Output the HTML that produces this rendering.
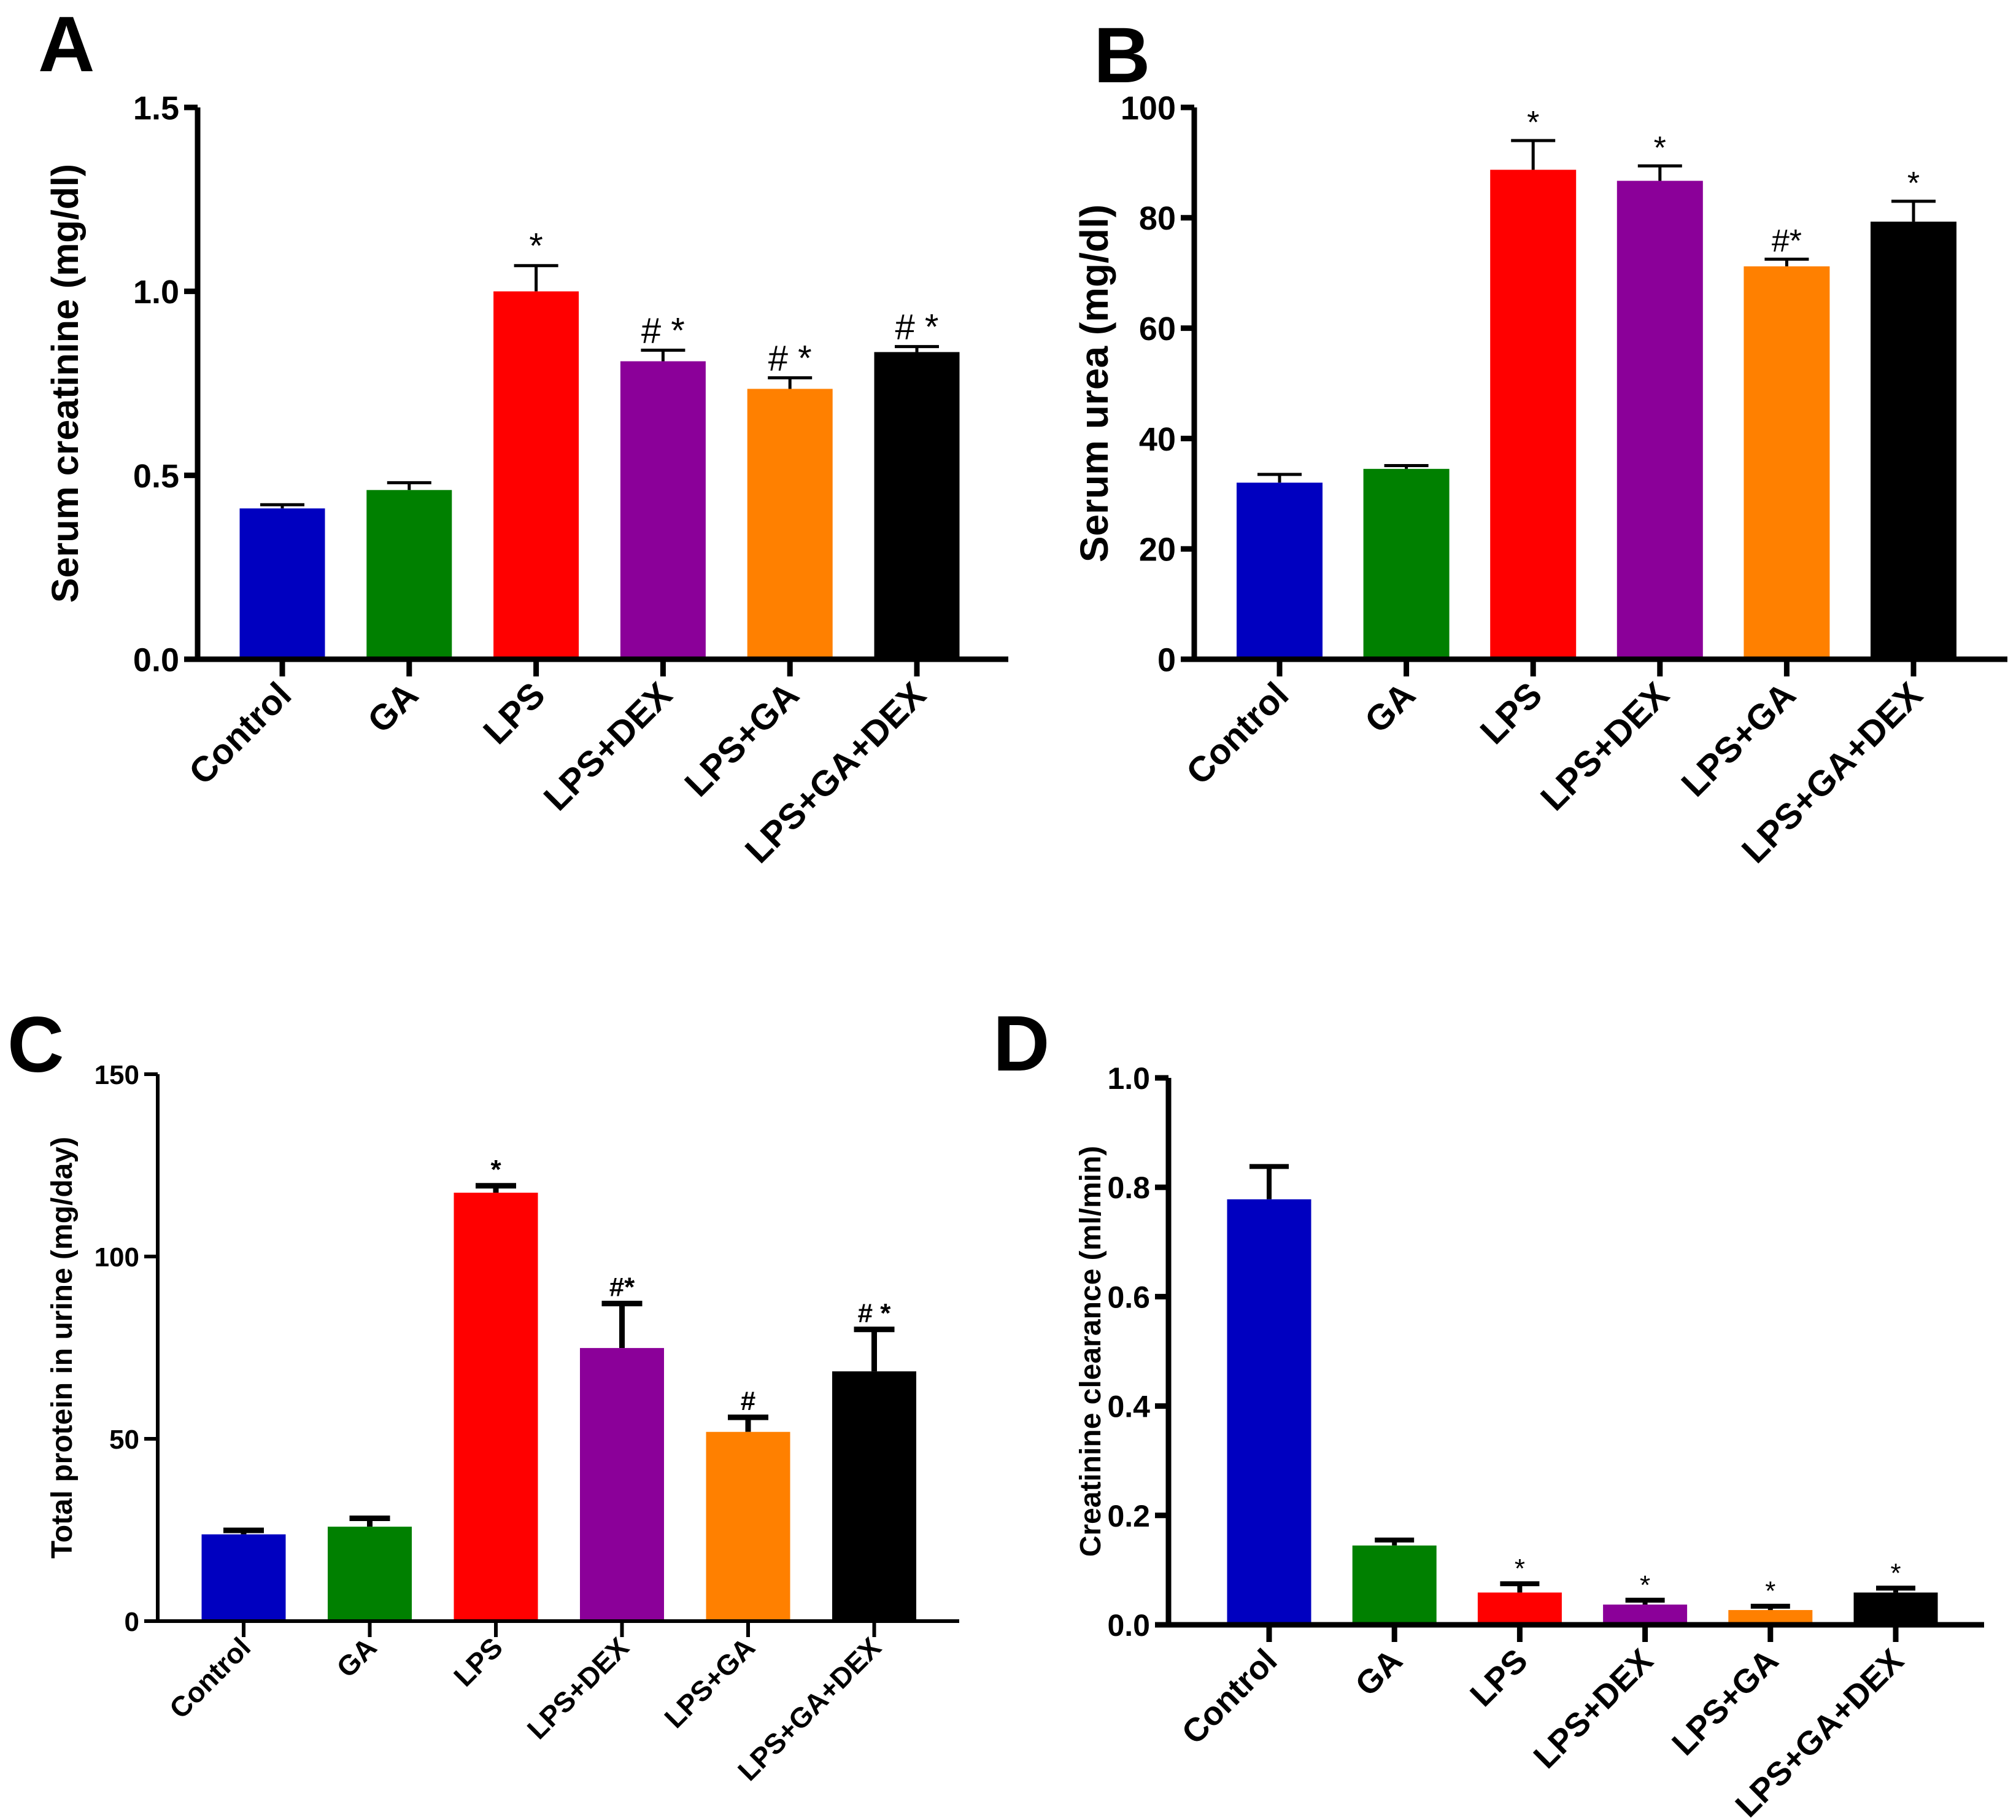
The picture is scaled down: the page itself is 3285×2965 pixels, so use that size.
<!DOCTYPE html>
<html><head><meta charset="utf-8"><style>
html,body{margin:0;padding:0;background:#fff;overflow:hidden;}
svg{display:block;font-family:"Liberation Sans",Arial,sans-serif;}
</style></head><body>
<svg id="fig" width="3285" height="2965" viewBox="0 0 3285 2965" xmlns="http://www.w3.org/2000/svg"></svg>
<script>
const categories = ["Control","GA","LPS","LPS+DEX","LPS+GA","LPS+GA+DEX"];
const colors = ["#0000c0","#008000","#ff0000","#8b0099","#ff8000","#000000"];
const valuesA = [0.41,0.46,1.00,0.81,0.735,0.835];
const errorsA = [0.01,0.02,0.07,0.03,0.03,0.015];
const marksA = ["","","*","#  *","#  *","#  *"];
const ticksA = [0,0.5,1.0,1.5];
const tickLabelsA = ["0.0","0.5","1.0","1.5"];
const valuesB = [32,34.5,88.7,86.7,71.2,79.3];
const errorsB = [1.5,0.6,5.3,2.7,1.3,3.7];
const marksB = ["","","*","*","#*","*"];
const ticksB = [0,20,40,60,80,100];
const tickLabelsB = ["0","20","40","60","80","100"];
const valuesC = [23.8,25.9,117.5,74.9,51.9,68.5];
const errorsC = [1.1,2.3,1.9,12.2,4.0,11.5];
const marksC = ["","","*","#*","#","# *"];
const ticksC = [0,50,100,150];
const tickLabelsC = ["0","50","100","150"];
const valuesD = [0.778,0.145,0.059,0.037,0.027,0.059];
const errorsD = [0.06,0.01,0.016,0.008,0.007,0.008];
const marksD = ["","","*","*","*","*"];
const ticksD = [0,0.2,0.4,0.6,0.8,1.0];
const tickLabelsD = ["0.0","0.2","0.4","0.6","0.8","1.0"];

const NS="http://www.w3.org/2000/svg";
const svg=document.getElementById('fig');
function mk(tag,attrs,parent){const e=document.createElementNS(NS,tag);for(const k in attrs)e.setAttribute(k,attrs[k]);(parent||svg).appendChild(e);return e;}

function panel(p){
  const g=mk('g',{});
  
  
  const y=v=>p.y0-(v/p.ymax)*(p.y0-p.y1);
  const x=i=>p.x0c+i*p.step;
  const lab=mk('text',{x:p.lx,y:p.ly,'font-size':p.lsize,'font-weight':'bold',fill:'#000'},g);
  lab.textContent=p.id;
  
  
  p.values.forEach((v,i)=>{
    const top=y(v+p.errors[i]);
    const eb=mk('line',{x1:x(i),x2:x(i),y1:y(v),y2:top,stroke:'#000','stroke-width':p.ew},g);
    
    
    const cap=mk('line',{x1:x(i)-p.cap,x2:x(i)+p.cap,y1:top,y2:top,stroke:'#000','stroke-width':p.ew},g);
    
    
    const r=mk('rect',{x:x(i)-p.bw/2,y:y(v),width:p.bw,height:p.y0-y(v),fill:colors[i]},g);
    
    
    if(p.marks[i]){
      const t=mk('text',{x:x(i),y:top-p.mgap,'font-size':p.msize,'text-anchor':'middle',fill:'#000','font-weight':p.mweight,'xml:space':'preserve'},g);
      t.textContent=p.marks[i];
      
      
    }
    const tk=mk('line',{x1:x(i),x2:x(i),y1:p.y0,y2:p.y0+p.xtick,stroke:'#000','stroke-width':p.aw},g);
    
    
    const cl=mk('text',{x:0,y:0,'font-size':p.csize,'font-weight':'bold','text-anchor':'end',fill:'#000',
      transform:`translate(${x(i)+p.cdx},${p.y0+p.cdy}) rotate(-45)`},g);
    cl.textContent=categories[i];
    
    
  });
  const ya=mk('line',{x1:p.ax,x2:p.ax,y1:p.y1,y2:p.y0+p.aw/2,stroke:'#000','stroke-width':p.aw},g);
  
  
  const xa=mk('line',{x1:p.ax-p.ytick,x2:p.xend,y1:p.y0,y2:p.y0,stroke:'#000','stroke-width':p.aw},g);
  
  
  p.ticks.forEach((tv,j)=>{
    const tl=mk('line',{x1:p.ax-p.ytick,x2:p.ax,y1:y(tv),y2:y(tv),stroke:'#000','stroke-width':p.aw},g);
    
    
    const tt=mk('text',{x:p.ax-p.ytick-8,y:y(tv)+p.tsize*0.36,'font-size':p.tsize,'font-weight':'bold','text-anchor':'end',fill:'#000'},g);
    tt.textContent=p.tickLabels[j];
    
    
  });
  const at=mk('text',{x:0,y:0,'font-size':p.asize,'font-weight':'bold','text-anchor':'middle',fill:'#000',
    transform:`translate(${p.atx},${(p.y0+p.y1)/2}) rotate(-90)`},g);
  at.textContent=p.title;
  
  
}

panel({id:'A',values:valuesA,errors:errorsA,marks:marksA,ticks:ticksA,tickLabels:tickLabelsA,ymax:1.5,
  y0:1074,y1:175,ax:322,xend:1643,x0c:460,step:206.8,bw:139,cap:36,ew:5,aw:9,ytick:22,xtick:28,
  lx:62,ly:116,lsize:128,tsize:54,asize:61,atx:127,csize:58,cdx:18,cdy:62,msize:58,mgap:12,mweight:'normal',
  title:'Serum creatinine (mg/dl)'});
panel({id:'B',values:valuesB,errors:errorsB,marks:marksB,ticks:ticksB,tickLabels:tickLabelsB,ymax:100,
  y0:1074,y1:175,ax:1946,xend:3271,x0c:2085,step:206.6,bw:140,cap:36,ew:5,aw:9,ytick:22,xtick:28,
  lx:1782,ly:134,lsize:128,tsize:54,asize:64,atx:1805,csize:58,cdx:18,cdy:62,msize:52,mgap:12,mweight:'normal',
  title:'Serum urea (mg/dl)'});
panel({id:'C',values:valuesC,errors:errorsC,marks:marksC,ticks:ticksC,tickLabels:tickLabelsC,ymax:150,
  y0:2641,y1:1750,ax:257,xend:1563,x0c:397,step:205.5,bw:137,cap:33,ew:9,aw:6,ytick:22,xtick:26,
  lx:12,ly:1746,lsize:128,tsize:44,asize:48,atx:117,csize:46,cdx:14,cdy:46,msize:44,mgap:12,mweight:'bold',
  title:'Total protein in urine (mg/day)'});
panel({id:'D',values:valuesD,errors:errorsD,marks:marksD,ticks:ticksD,tickLabels:tickLabelsD,ymax:1.0,
  y0:2647,y1:1756,ax:1904,xend:3233,x0c:2068,step:204.2,bw:137,cap:32,ew:8,aw:9,ytick:22,xtick:28,
  lx:1618,ly:1744,lsize:128,tsize:50,asize:48,atx:1793,csize:54,cdx:16,cdy:62,msize:44,mgap:10,mweight:'normal',
  title:'Creatinine clearance (ml/min)'});
</script>
</body></html>
